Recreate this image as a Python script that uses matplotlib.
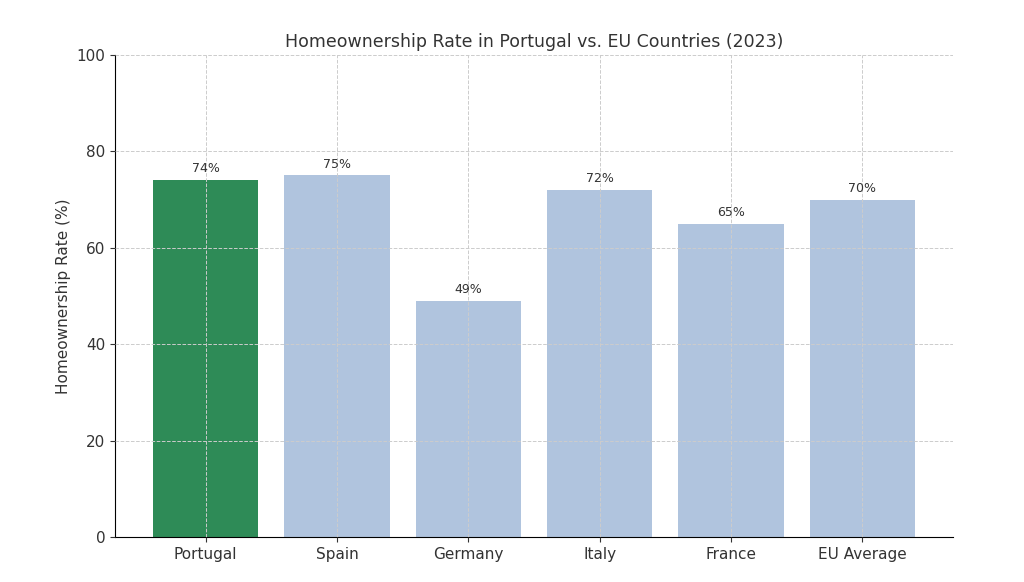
import matplotlib
matplotlib.use("Agg")
import matplotlib.pyplot as plt

countries = ["Portugal", "Spain", "Germany", "Italy", "France", "EU Average"]
rates = [74, 75, 49, 72, 65, 70]
colors = ["#2E8B57", "#B0C4DE", "#B0C4DE", "#B0C4DE", "#B0C4DE", "#B0C4DE"]

fig = plt.figure(figsize=(10.24, 5.82), dpi=100)
ax = fig.add_axes([115/1024, 45/582, 838/1024, 482/582])
bars = ax.bar(countries, rates, color=colors, width=0.8)
for b, v in zip(bars, rates):
    ax.text(b.get_x() + b.get_width()/2, v + 1, f"{v}%", ha="center", va="bottom", fontsize=9, color="#333333")
ax.set_ylim(0, 100)
ax.set_ylabel("Homeownership Rate (%)", fontsize=11, color="#333333")
ax.set_title("Homeownership Rate in Portugal vs. EU Countries (2023)", fontsize=12.5, color="#333333")
ax.grid(True, linestyle="--", color="#cccccc", linewidth=0.7)
ax.set_axisbelow(False)
for s in ["top", "right"]:
    ax.spines[s].set_visible(False)
ax.tick_params(labelsize=11, colors="#333333")
fig.savefig("out.png", dpi=100)
